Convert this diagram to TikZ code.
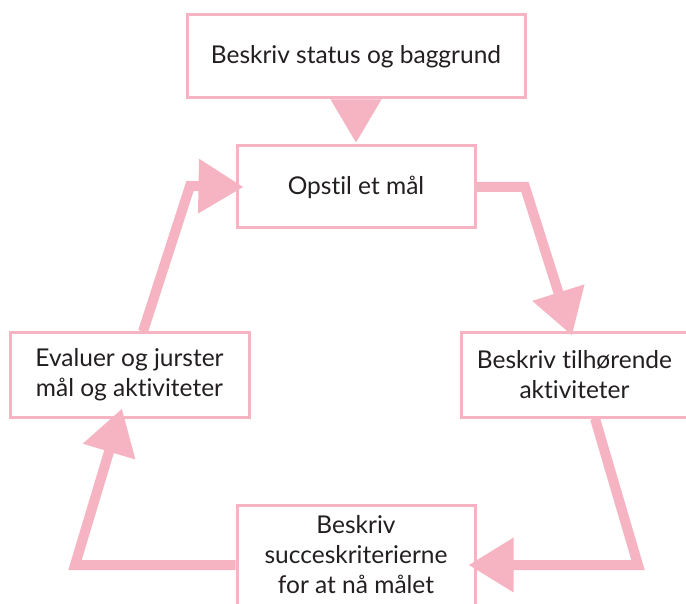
\documentclass[tikz,border=0pt]{standalone}
\usepackage{fontspec}
\setmainfont{Lato}[Ligatures=NoCommon]
\usepackage{xcolor}
\usepackage{tikz}
\usetikzlibrary{arrows.meta}
\definecolor{rosa}{RGB}{246,180,195}
\definecolor{tekst}{RGB}{35,31,32}

\begin{document}
\begin{tikzpicture}[x=1pt,y=-1pt]
	\useasboundingbox (0,0) rectangle (686,604);
	\tikzstyle{box}=[draw=rosa,line width=3pt,fill=white,text=tekst,align=center,
		font=\fontsize{24.5}{30}\selectfont,inner sep=0pt]
	\tikzstyle{pil}=[draw=rosa,line width=10pt,line join=miter,
		-{Triangle[length=45pt,width=52pt]}]
	\node[box,minimum width=338pt,minimum height=83pt] (status) at (356,56.5) {Beskriv status og baggrund};
	\node[box,minimum width=238pt,minimum height=82pt] (goal) at (356,187) {Opstil et mål};
	\node[box,minimum width=227pt,minimum height=84pt] (act) at (574.5,375) {Beskriv tilhørende\\aktiviteter};
	\node[box,minimum width=238pt,minimum height=100pt] (crit) at (356,555) {Beskriv\\succeskriterierne\\for at nå målet};
	\node[box,minimum width=239pt,minimum height=84pt] (eval) at (129.5,375) {Evaluer og jurster\\mål og aktiviteter};
	\fill[rosa] ([xshift=-25.5pt]status.south) -- ([xshift=25.5pt]status.south) -- ([yshift=2pt]goal.north) -- cycle;
	\draw[pil] (goal.east) -- (525,187) -- ([xshift=-2.5pt,yshift=-4pt]act.north);
	\draw[pil] ([xshift=20.5pt]act.south) -- (638,565) -- ([xshift=-8pt,yshift=-10pt]crit.east);
	\draw[pil] ([yshift=-10pt]crit.west) -- (75,565) -- ([xshift=-7.5pt,yshift=10pt]eval.south);
	\draw[pil] ([xshift=13.5pt]eval.north) -- (190,186) -- ([xshift=8pt]goal.west);
\end{tikzpicture}
\end{document}
